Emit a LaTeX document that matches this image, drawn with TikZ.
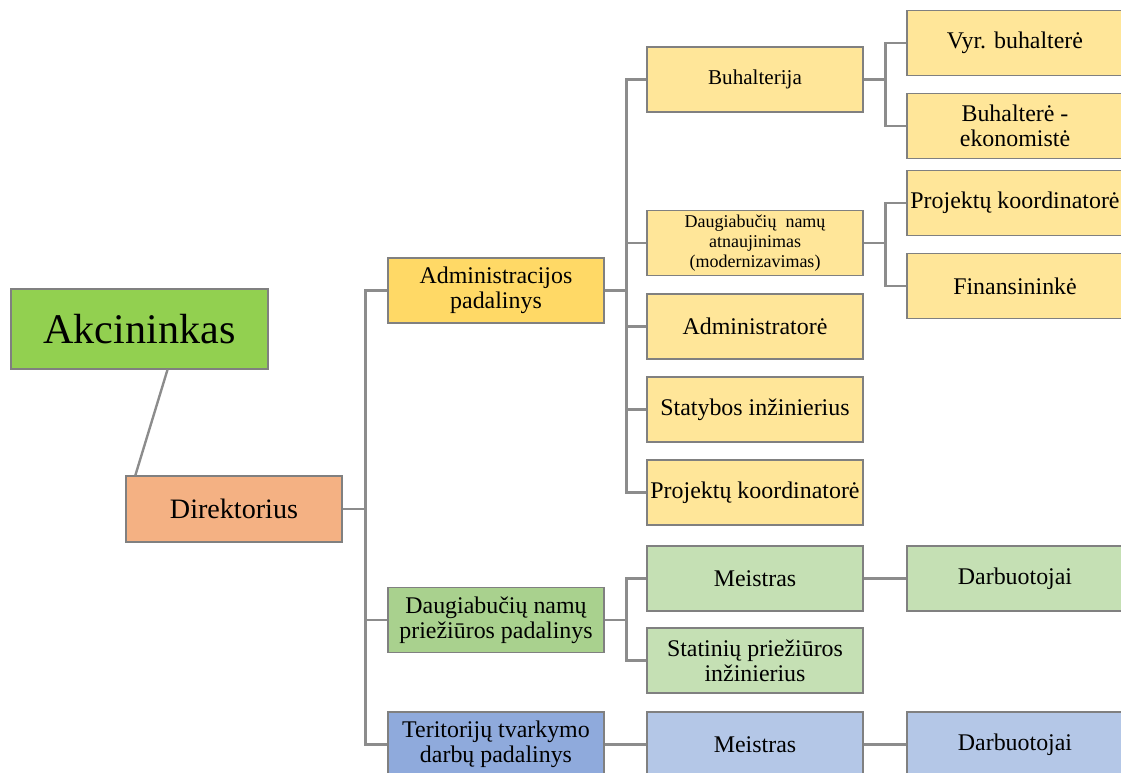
\documentclass[tikz,border=0pt]{standalone}
\usepackage{fontspec}
\setmainfont{Liberation Serif}
\usepackage{tikz}
\usepackage{xcolor}

\definecolor{akcgreen}{HTML}{92D050}
\definecolor{dirorange}{HTML}{F4B183}
\definecolor{admgold}{HTML}{FFD966}
\definecolor{admlight}{HTML}{FFE699}
\definecolor{prgreen}{HTML}{A9D18E}
\definecolor{prlight}{HTML}{C5E0B4}
\definecolor{terblue}{HTML}{8FAADC}
\definecolor{terlight}{HTML}{B4C7E7}
\definecolor{linegray}{HTML}{8C8C8C}
\definecolor{boxgray}{HTML}{808080}

\tikzset{
  box/.style={draw=boxgray, line width=0.9pt, minimum width=5.4cm, minimum height=1.625cm,
    align=center, inner sep=1pt, font=\fontsize{17}{18}\selectfont},
  conn/.style={draw=linegray, line width=1.7pt}
}

\begin{document}
\begin{tikzpicture}[x=0.025cm,y=-0.025cm]

\useasboundingbox (0,0) rectangle (1121,772);

\node[box, fill=akcgreen, minimum width=6.425cm, minimum height=2cm, font=\fontsize{30}{32}\selectfont] (akc) at (139.5,329) {Akcininkas};
\node[box, fill=dirorange, minimum height=1.65cm, font=\fontsize{20}{22}\selectfont] (dir) at (234,509) {Direktorius};

\node[box, fill=admgold] (adm) at (496,290.5) {Administracijos\\padalinys};
\node[box, fill=prgreen] (pri) at (496,620) {Daugiabučių namų\\priežiūros padalinys};
\node[box, fill=terblue] (ter) at (496,744.5) {Teritorijų tvarkymo\\darbų padalinys};

\node[box, fill=admlight, font=\fontsize{15}{17}\selectfont] (buh) at (755,79.5) {Buhalterija};
\node[box, fill=admlight, font=\fontsize{12.8}{14.2}\selectfont] (ren) at (755,243) {Daugiabučių\ \ namų\\atnaujinimas\\(modernizavimas)};
\node[box, fill=admlight] (adr) at (755,326.5) {Administratorė};
\node[box, fill=admlight] (sta) at (755,409.5) {Statybos inžinierius};
\node[box, fill=admlight] (pk1) at (755,492.5) {Projektų koordinatorė};
\node[box, fill=prlight] (mei1) at (755,578.5) {Meistras};
\node[box, fill=prlight] (sin) at (755,660.5) {Statinių priežiūros\\inžinierius};
\node[box, fill=terlight] (mei2) at (755,744.5) {Meistras};

\node[box, fill=admlight] (vyr) at (1015,43) {Vyr. buhalterė};
\node[box, fill=admlight] (bek) at (1015,126) {Buhalterė -\\ekonomistė};
\node[box, fill=admlight] (pk2) at (1015,203) {Projektų koordinatorė};
\node[box, fill=admlight] (fin) at (1015,286) {Finansininkė};
\node[box, fill=prlight] (dar1) at (1015,578.5) {Darbuotojai};
\node[box, fill=terlight] (dar2) at (1015,744.5) {Darbuotojai};

\draw[conn] ([xshift=0.7cm]akc.south) -- ([xshift=0.25cm]dir.north west);

\foreach \n in {adm,pri,ter}
  \draw[conn] (dir.east) -- ++(23,0) |- (\n.west);
\foreach \n in {buh,ren,adr,sta,pk1}
  \draw[conn] (adm.east) -- ++(22,0) |- (\n.west);
\foreach \n in {vyr,bek}
  \draw[conn] (buh.east) -- ++(22,0) |- (\n.west);
\foreach \n in {pk2,fin}
  \draw[conn] (ren.east) -- ++(22,0) |- (\n.west);
\foreach \n in {mei1,sin}
  \draw[conn] (pri.east) -- ++(22,0) |- (\n.west);
\draw[conn] (ter.east) -- (mei2.west);
\draw[conn] (mei1.east) -- (dar1.west);
\draw[conn] (mei2.east) -- (dar2.west);

\end{tikzpicture}
\end{document}
